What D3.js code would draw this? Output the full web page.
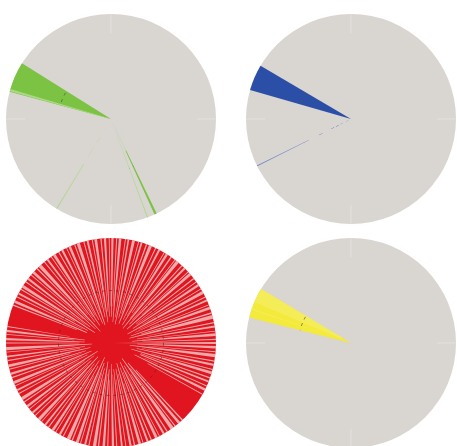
<!DOCTYPE html>
<html>
<head>
<meta charset="utf-8">
<script src="https://cdn.jsdelivr.net/npm/d3@7"></script>
<style>
body { margin: 0; background: #fff; }
</style>
</head>
<body>
<svg id="chart" width="457" height="446"></svg>
<script>
// wedges: [startDeg, endDeg, innerFrac, outerFrac, shade]  (0 deg = north, clockwise)
var greenWedges = [
    [285, 302, 0, 1, 0],
    [285.3, 286.6, 0.03, 1, 1],
    [154.2, 155.5, 0.33, 1, 0],
    [154.6, 155.1, 0.05, 0.33, 1],
    [159.4, 159.9, 0, 1, 1],
    [210.9, 211.4, 0.5, 1, 1],
    [210.9, 211.4, 0.08, 0.14, 1],
    [210.9, 211.4, 0.2, 0.26, 1],
    [210.9, 211.4, 0.32, 0.42, 1]
];
var blueWedges = [
    [286, 300.5, 0, 1, 0],
    [243.2, 243.7, 0.45, 1, 1],
    [242.5, 244, 0.02, 0.05, 0],
    [242.7, 243.9, 0.08, 0.11, 0],
    [242.8, 243.8, 0.13, 0.16, 0],
    [242.9, 243.7, 0.18, 0.21, 0],
    [243, 243.6, 0.3, 0.34, 1]
];
var yellowWedges = [
    [284, 301, 0, 1, 0],
    [293, 301, 0.1, 1, 1],
    [288.5, 289.2, 0.2, 1, 1]
];
// red panel: light gaps between red spokes: [angleDeg, widthDeg, innerFrac]
var redGaps = [
    [0.8, 1.2, 0.25], [3.1, 0.6, 0.35], [5.0, 1.4, 0.2], [7.9, 0.5, 0.4], [9.6, 0.9, 0.25],
    [12.4, 1.6, 0.18], [15.3, 0.5, 0.35], [17.0, 1.0, 0.25], [19.8, 0.7, 0.3], [22.1, 1.8, 0.2],
    [25.2, 0.6, 0.4], [27.4, 1.1, 0.25], [30.5, 0.5, 0.3], [32.2, 1.4, 0.2], [35.0, 0.8, 0.35],
    [37.6, 0.5, 0.3], [39.3, 1.9, 0.18], [42.5, 0.7, 0.3], [44.6, 1.2, 0.25], [47.3, 0.5, 0.4],
    [49.0, 1.5, 0.2], [52.1, 0.8, 0.3], [54.4, 0.6, 0.3], [56.5, 1.3, 0.25], [59.0, 0.5, 0.35],
    [61.2, 1.7, 0.18], [64.0, 0.6, 0.3], [66.1, 1.0, 0.25], [68.7, 0.5, 0.4], [70.5, 1.4, 0.2],
    [73.4, 0.8, 0.3], [75.6, 2.0, 0.18], [78.8, 0.6, 0.35], [81.0, 1.1, 0.25], [83.5, 0.5, 0.3],
    [85.4, 1.5, 0.2], [88.0, 0.6, 0.3], [90.0, 1.0, 0.02], [92.3, 1.3, 0.25], [94.8, 0.6, 0.35],
    [96.9, 1.8, 0.18], [99.9, 0.7, 0.3], [102.0, 1.2, 0.25], [104.6, 0.5, 0.4], [106.5, 1.6, 0.2],
    [109.4, 0.7, 0.3], [111.6, 1.1, 0.3], [114.2, 0.6, 0.35], [116.4, 1.4, 0.25], [119.3, 0.6, 0.4],
    [137.2, 0.8, 0.35], [139.5, 1.5, 0.25], [142.3, 0.6, 0.3], [144.4, 2.0, 0.18], [147.6, 0.7, 0.35],
    [149.8, 1.2, 0.25], [152.5, 0.5, 0.3], [154.4, 1.6, 0.2], [157.4, 0.7, 0.3], [159.6, 1.1, 0.25],
    [162.2, 0.5, 0.4], [164.1, 1.5, 0.2], [167.0, 0.7, 0.3], [169.2, 1.2, 0.25], [171.8, 0.5, 0.35],
    [174.0, 1.0, 0.25], [176.8, 0.6, 0.3], [178.9, 1.3, 0.2], [181.8, 0.6, 0.35], [184.0, 1.4, 0.25],
    [186.9, 0.7, 0.3], [189.1, 1.8, 0.18], [192.2, 0.6, 0.35], [194.3, 1.1, 0.25], [196.9, 0.5, 0.3],
    [198.8, 1.6, 0.2], [201.7, 0.7, 0.3], [203.9, 2.0, 0.15], [207.1, 0.6, 0.35], [209.2, 1.2, 0.25],
    [211.8, 0.5, 0.4], [213.7, 1.5, 0.2], [216.6, 0.7, 0.3], [218.8, 1.1, 0.25], [221.4, 0.5, 0.35],
    [223.3, 1.7, 0.18], [226.3, 0.6, 0.3], [228.4, 1.2, 0.25], [231.0, 0.5, 0.4], [232.9, 1.4, 0.2],
    [235.8, 0.7, 0.3], [238.0, 1.9, 0.15], [241.2, 0.6, 0.35], [243.3, 1.1, 0.25], [245.9, 0.5, 0.3],
    [247.8, 1.6, 0.2], [250.7, 0.7, 0.3], [252.9, 1.2, 0.25], [255.5, 0.5, 0.4], [257.4, 1.5, 0.2],
    [260.3, 0.7, 0.3], [262.5, 1.0, 0.25], [265.0, 0.5, 0.35], [266.9, 1.8, 0.18], [270.0, 0.6, 0.3],
    [272.1, 1.2, 0.25], [274.7, 0.5, 0.35], [276.6, 1.3, 0.25], [279.0, 0.5, 0.4], [291.2, 0.7, 0.35],
    [293.3, 1.4, 0.25], [296.1, 0.6, 0.3], [298.2, 1.1, 0.25], [300.8, 0.5, 0.4], [302.7, 1.7, 0.18],
    [305.7, 0.6, 0.3], [307.8, 1.2, 0.25], [310.4, 0.5, 0.35], [312.3, 1.5, 0.2], [315.2, 0.7, 0.3],
    [317.4, 1.9, 0.15], [320.6, 0.6, 0.35], [322.7, 1.1, 0.25], [325.3, 0.5, 0.3], [327.2, 1.6, 0.2],
    [330.1, 0.7, 0.3], [332.3, 1.2, 0.25], [334.9, 0.5, 0.4], [336.8, 1.4, 0.2], [339.7, 0.6, 0.3],
    [341.8, 1.8, 0.18], [345.0, 0.6, 0.35], [347.1, 1.1, 0.25], [349.7, 0.5, 0.3], [351.6, 1.5, 0.2],
    [354.5, 0.7, 0.3], [356.7, 1.2, 0.25], [359.0, 0.5, 0.35]
];

var svg = d3.select("#chart");
var R = 105;
var ang = d3.scaleLinear().domain([0, 360]).range([0, 2 * Math.PI]);
var rad = d3.scaleLinear().domain([0, 1]).range([0, R]);
var arc = d3.arc()
    .startAngle(function(d) { return ang(d[0]); })
    .endAngle(function(d) { return ang(d[1]); })
    .innerRadius(function(d) { return rad(d[2]); })
    .outerRadius(function(d) { return rad(d[3]); });

var panels = [
    {id: "g", cx: 111, cy: 119, wedges: greenWedges, colors: ["#7cc243", "#a9d985"]},
    {id: "b", cx: 351, cy: 119, wedges: blueWedges, colors: ["#2b4fa6", "#6a82c4"]},
    {id: "y", cx: 351, cy: 343, wedges: yellowWedges, colors: ["#f3ea3b", "#f5ed58"]}
];

var defs = svg.append("defs");

panels.forEach(function(p) {
    var g = svg.append("g").attr("transform", "translate(" + p.cx + "," + p.cy + ")");
    g.append("circle").attr("r", R).attr("fill", "#d9d5d1");
    // faint cardinal ticks
    [0, 90, 180, 270].forEach(function(a) {
        var t = ang(a);
        g.append("line")
            .attr("x1", Math.sin(t) * rad(0.82)).attr("y1", -Math.cos(t) * rad(0.82))
            .attr("x2", Math.sin(t) * rad(1)).attr("y2", -Math.cos(t) * rad(1))
            .attr("stroke", "#e4e1de").attr("stroke-width", 1);
    });
    g.selectAll("path.w").data(p.wedges).enter().append("path")
        .attr("class", "w")
        .attr("d", arc)
        .attr("fill", function(d) { return p.colors[d[4]]; });

    // dashed ring only shows over the coloured wedges
    var clip = defs.append("clipPath").attr("id", "clip-" + p.id);
    clip.selectAll("path").data(p.wedges).enter().append("path").attr("d", arc);
    g.append("circle")
        .attr("r", rad(0.5))
        .attr("fill", "none")
        .attr("stroke", "#555")
        .attr("stroke-opacity", 0.7)
        .attr("stroke-dasharray", "3,4")
        .attr("clip-path", "url(#clip-" + p.id + ")");
});

// red panel
var rg = svg.append("g").attr("transform", "translate(111,343)");
rg.append("circle").attr("r", R).attr("fill", "#e0151f");
rg.selectAll("path.gap").data(redGaps).enter().append("path")
    .attr("class", "gap")
    .attr("d", function(d) {
        return arc([d[0] - d[1] / 2, d[0] + d[1] / 2, d[2], 1]);
    })
    .attr("fill", "#f1d0cd")
    .attr("fill-opacity", 0.8);
rg.append("circle")
    .attr("r", rad(0.5))
    .attr("fill", "none")
    .attr("stroke", "#6b1a1a")
    .attr("stroke-opacity", 0.6)
    .attr("stroke-dasharray", "3,4");
</script>
</body>
</html>
